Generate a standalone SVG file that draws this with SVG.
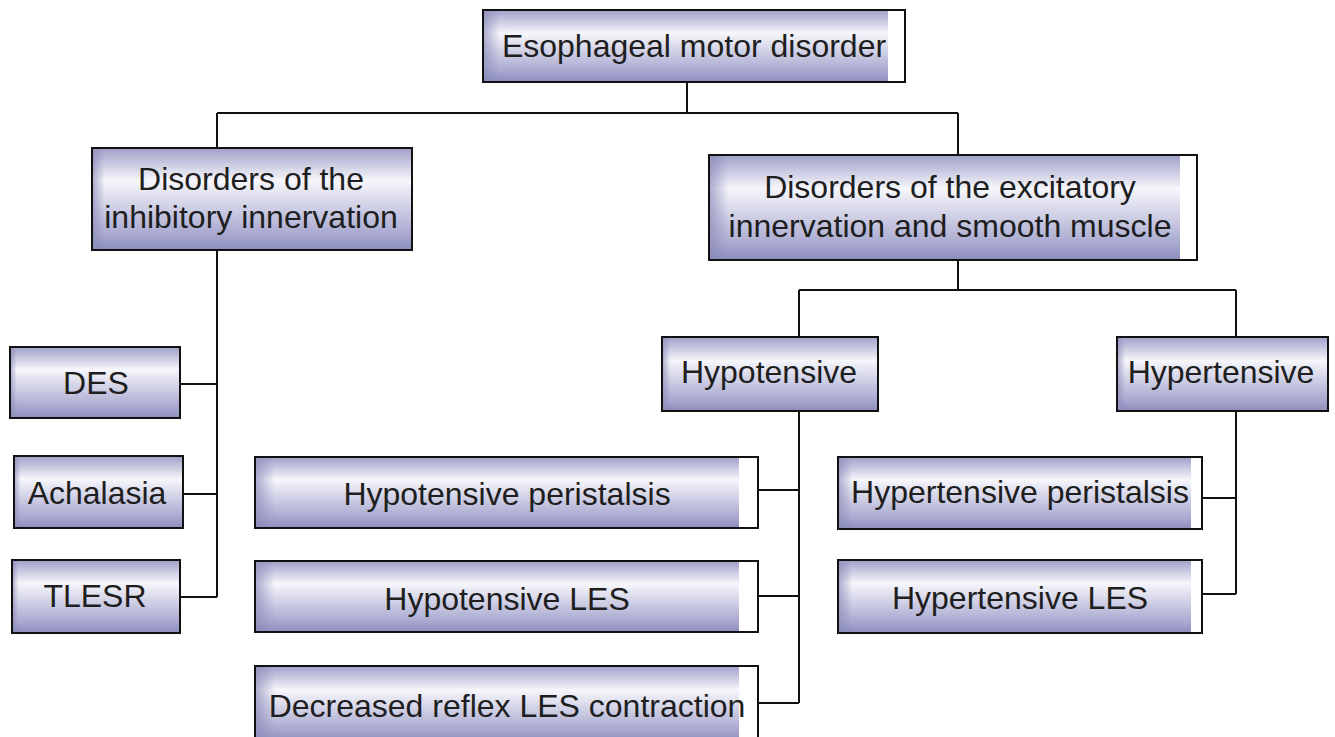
<svg xmlns="http://www.w3.org/2000/svg" width="1335" height="737" viewBox="0 0 1335 737">
<defs>
<linearGradient id="gv" x1="0" y1="0" x2="0" y2="1">
<stop offset="0" stop-color="#a0a0ca"/>
<stop offset="0.12" stop-color="#c0c0dc"/>
<stop offset="0.32" stop-color="#f6f6fb"/>
<stop offset="0.55" stop-color="#d4d4e8"/>
<stop offset="0.85" stop-color="#a8a8d0"/>
<stop offset="1" stop-color="#8c8cbc"/>
</linearGradient>
<linearGradient id="gh" x1="0" y1="0" x2="1" y2="0">
<stop offset="0" stop-color="#8a8ab8" stop-opacity="0.7"/>
<stop offset="0.04" stop-color="#8a8ab8" stop-opacity="0"/>
<stop offset="1" stop-color="#8a8ab8" stop-opacity="0"/>
</linearGradient>
<style>
.bg{fill:url(#gv);}
.sh{fill:url(#gh);}
.st{fill:#ffffff;}
.bd{fill:none;stroke:#111;stroke-width:2;}
.t{font-family:"Liberation Sans",Arial,sans-serif;font-size:32px;fill:#1e1e1e;text-anchor:middle;}
.c{fill:none;stroke:#111;stroke-width:2;}
</style>
</defs>
<rect width="1335" height="737" fill="#ffffff"/>

<g id="connectors">
<path class="c" d="M687 82V113M217 113H958M217 113V148M958 113V155"/>
<path class="c" d="M217 250V597M180 384H217M183 494H217M180 597H217"/>
<path class="c" d="M958 260V290M799 290H1236M799 290V337M1236 290V337"/>
<path class="c" d="M799 411V703M740 490H799M740 596H799M740 703H799"/>
<path class="c" d="M1236 410V594M1188 498H1236M1192 594H1236"/>
</g>

<g id="n-root">
<rect class="bg" x="483" y="10" width="422" height="72"/>
<rect class="sh" x="483" y="10" width="422" height="72"/>
<rect class="st" x="888" y="11" width="16" height="70"/>
<rect class="bd" x="483" y="10" width="422" height="72"/>
<text class="t" x="694" y="57">Esophageal motor disorder</text>
</g>

<g id="n-inhib">
<rect class="bg" x="92" y="148" width="320" height="102"/>
<rect class="sh" x="92" y="148" width="320" height="102"/>
<rect class="bd" x="92" y="148" width="320" height="102"/>
<text class="t" x="251" y="190">Disorders of the</text>
<text class="t" x="251" y="228">inhibitory innervation</text>
</g>

<g id="n-excit">
<rect class="bg" x="709" y="155" width="488" height="105"/>
<rect class="sh" x="709" y="155" width="488" height="105"/>
<rect class="st" x="1180" y="156" width="16" height="103"/>
<rect class="bd" x="709" y="155" width="488" height="105"/>
<text class="t" x="950" y="198">Disorders of the excitatory</text>
<text class="t" x="950" y="237">innervation and smooth muscle</text>
</g>

<g id="n-des">
<rect class="bg" x="10" y="347" width="170" height="71"/>
<rect class="sh" x="10" y="347" width="170" height="71"/>
<rect class="bd" x="10" y="347" width="170" height="71"/>
<text class="t" x="96" y="394">DES</text>
</g>

<g id="n-achalasia">
<rect class="bg" x="14" y="456" width="169" height="72"/>
<rect class="sh" x="14" y="456" width="169" height="72"/>
<rect class="bd" x="14" y="456" width="169" height="72"/>
<text class="t" x="97" y="504">Achalasia</text>
</g>

<g id="n-tlesr">
<rect class="bg" x="12" y="560" width="168" height="73"/>
<rect class="sh" x="12" y="560" width="168" height="73"/>
<rect class="bd" x="12" y="560" width="168" height="73"/>
<text class="t" x="95" y="607">TLESR</text>
</g>

<g id="n-hypo">
<rect class="bg" x="662" y="337" width="216" height="74"/>
<rect class="sh" x="662" y="337" width="216" height="74"/>
<rect class="bd" x="662" y="337" width="216" height="74"/>
<text class="t" x="769" y="383">Hypotensive</text>
</g>

<g id="n-hyper">
<rect class="bg" x="1117" y="337" width="211" height="74"/>
<rect class="sh" x="1117" y="337" width="211" height="74"/>
<rect class="bd" x="1117" y="337" width="211" height="74"/>
<text class="t" x="1221" y="383">Hypertensive</text>
</g>

<g id="n-hypo-peri">
<rect class="bg" x="255" y="457" width="503" height="71"/>
<rect class="sh" x="255" y="457" width="503" height="71"/>
<rect class="st" x="739" y="458" width="18" height="69"/>
<rect class="bd" x="255" y="457" width="503" height="71"/>
<text class="t" x="507" y="505">Hypotensive peristalsis</text>
</g>

<g id="n-hypo-les">
<rect class="bg" x="255" y="561" width="503" height="71"/>
<rect class="sh" x="255" y="561" width="503" height="71"/>
<rect class="st" x="739" y="562" width="18" height="69"/>
<rect class="bd" x="255" y="561" width="503" height="71"/>
<text class="t" x="507" y="610">Hypotensive LES</text>
</g>

<g id="n-decreased">
<rect class="bg" x="255" y="666" width="503" height="75"/>
<rect class="sh" x="255" y="666" width="503" height="75"/>
<rect class="st" x="739" y="667" width="18" height="73"/>
<rect class="bd" x="255" y="666" width="503" height="75"/>
<text class="t" x="507" y="717">Decreased reflex LES contraction</text>
</g>

<g id="n-hyper-peri">
<rect class="bg" x="838" y="457" width="364" height="72"/>
<rect class="sh" x="838" y="457" width="364" height="72"/>
<rect class="st" x="1191" y="458" width="10" height="70"/>
<rect class="bd" x="838" y="457" width="364" height="72"/>
<text class="t" x="1020" y="503">Hypertensive peristalsis</text>
</g>

<g id="n-hyper-les">
<rect class="bg" x="838" y="560" width="364" height="73"/>
<rect class="sh" x="838" y="560" width="364" height="73"/>
<rect class="st" x="1191" y="561" width="10" height="71"/>
<rect class="bd" x="838" y="560" width="364" height="73"/>
<text class="t" x="1020" y="609">Hypertensive LES</text>
</g>
</svg>
